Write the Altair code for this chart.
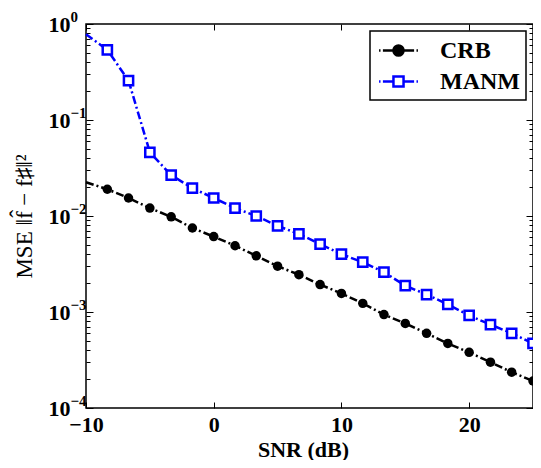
import altair as alt
import pandas as pd

# SNR (dB) of the marked points
snr = [-8.33, -6.67, -5.0, -3.33, -1.67, 0.0, 1.67, 3.33, 5.0, 6.67, 8.33,
       10.0, 11.67, 13.33, 15.0, 16.67, 18.33, 20.0, 21.67, 23.33, 25.0]
crb = [0.0190, 0.0154, 0.0121, 0.0098, 0.0075, 0.0061, 0.0049, 0.00385, 0.0030,
       0.00245, 0.00193, 0.00156, 0.00123, 0.00094, 0.00076, 0.00060, 0.00047,
       0.00038, 0.00030, 0.000236, 0.000191]
manm = [0.538, 0.257, 0.0461, 0.0266, 0.0195, 0.0154, 0.0121, 0.0100, 0.0079,
        0.0065, 0.0051, 0.0040, 0.0033, 0.0026, 0.00188, 0.00152, 0.00120,
        0.00092, 0.00074, 0.00060, 0.00047]
# line start at the left edge (no marker)
snr_start = -10.0
crb_start = 0.0225
manm_start = 0.78

series = ["CRB", "MANM"]
colors = ["#000000", "#0000ff"]
fills = ["#000000", "#ffffff"]

y_decades = [1.0, 0.1, 0.01, 0.001, 0.0001]
y_minor = [m * d for d in [0.1, 0.01, 0.001, 0.0001] for m in range(2, 10)]
exponents = ["0", "\u22121", "\u22122", "\u22123", "\u22124"]
x_ticks = [-10, 0, 10, 20]

pts = pd.DataFrame({
    "snr": snr + snr,
    "mse": crb + manm,
    "series": ["CRB"] * len(snr) + ["MANM"] * len(snr),
})
lines = pd.DataFrame({
    "snr": [snr_start] + snr + [snr_start] + snr,
    "mse": [crb_start] + crb + [manm_start] + manm,
    "series": ["CRB"] * (len(snr) + 1) + ["MANM"] * (len(snr) + 1),
})

W, H = 447, 384
SERIF = "Liberation Serif"

decade_test = "abs(log(datum.value)/LN10 - round(log(datum.value)/LN10)) < 0.001"
exp_js = "[" + ",".join("'" + e + "'" for e in exponents) + "]"

x_scale = alt.Scale(domain=[-10, 25], nice=False, zero=False)
y_scale = alt.Scale(type="log", domain=[0.0001, 1], nice=False)

x_enc = alt.X(
    "snr:Q", scale=x_scale,
    axis=alt.Axis(
        orient="bottom",
        values=x_ticks, title="SNR (dB)", domain=False, ticks=False,
        grid=True, gridColor="black", gridOpacity=1, gridWidth=1,
        gridDash=[6, H - 12, 6, 2000],
        labelExpr="datum.value < 0 ? '\u2212' + toString(-datum.value) : toString(datum.value)",
        labelFont=SERIF, labelFontSize=22, labelFontWeight="bold", labelColor="black",
        labelPadding=6, labelFlush=False,
        titleFont=SERIF, titleFontSize=22, titleFontWeight="bold", titleColor="black",
        titleX=217, titleY=41, titleBaseline="middle",
    ),
)

y_main = alt.Y(
    "mse:Q", scale=y_scale,
    axis=alt.Axis(
        orient="left",
        values=y_decades + y_minor, title="MSE  \u2016f\u0302 \u2212 f\u266f\u2016\u00b2",
        domain=False, ticks=False,
        grid=True, gridColor="black", gridOpacity=1, gridWidth=1,
        gridDash={"condition": {"test": decade_test, "value": [7, W - 14, 7, 2000]},
                  "value": [4, W - 8, 4, 2000]},
        labelExpr=decade_test + " ? '10' : ''",
        labelFont=SERIF, labelFontSize=22, labelFontWeight="bold", labelColor="black",
        labelPadding=16, labelFlush=False, labelBaseline="middle",
        titleFont=SERIF, titleFontSize=23, titleFontWeight="normal", titleColor="black",
        titleX=-50, titleY=H / 2,
    ),
)

y_exp = alt.Y(
    "mse:Q", scale=y_scale,
    axis=alt.Axis(
        orient="left",
        values=y_decades, title=None, domain=False, ticks=False, grid=False,
        labelExpr=exp_js + "[round(-log(datum.value)/LN10)]",
        labelFont=SERIF, labelFontSize=15, labelFontWeight="bold", labelColor="black",
        labelAlign="left", labelPadding=16, labelOffset=-8, labelBaseline="middle",
        labelFlush=False,
    ),
)

y_plain = alt.Y("mse:Q", scale=y_scale, axis=None)
x_plain = alt.X("snr:Q", scale=x_scale)

dash = [8, 3, 2, 3]

crb_line = alt.Chart(lines).transform_filter("datum.series == 'CRB'").mark_line(
    strokeWidth=2.5, strokeDash=dash, color=colors[0]
).encode(x=x_enc, y=y_main)

manm_line = alt.Chart(lines).transform_filter("datum.series == 'MANM'").mark_line(
    strokeWidth=2.5, strokeDash=dash, color=colors[1]
).encode(x=x_plain, y=y_plain)

crb_pts = alt.Chart(pts).transform_filter("datum.series == 'CRB'").mark_point(
    shape="circle", filled=True, size=90, color=colors[0], opacity=1
).encode(x=x_plain, y=y_plain)

manm_pts = alt.Chart(pts).transform_filter("datum.series == 'MANM'").mark_point(
    shape="square", filled=False, size=85, stroke=colors[1], fill="#ffffff",
    fillOpacity=1, strokeWidth=2.5, opacity=1
).encode(x=x_plain, y=y_plain)

exp_axis_layer = alt.Chart(pts).transform_filter("false").mark_point().encode(
    x=x_plain, y=y_exp
)

# legend symbols: dash-dot line with the marker in the middle (unit = 12 px)
dash_part = "M-1.62,0H-1.5M-1.3,0H-0.5M0.5,0H1.3M1.5,0H1.62"
circle_path = dash_part + "M0.42,0A0.42,0.42 0 1,1 -0.42,0A0.42,0.42 0 1,1 0.42,0Z"
square_path = dash_part + "M-0.42,-0.42H0.42V0.42H-0.42Z"

leg = alt.Legend(
    title=None, orient="top-right", offset=7, padding=6,
    fillColor="white", strokeColor="black",
    labelFont=SERIF, labelFontSize=24, labelFontWeight="bold", labelColor="black",
    labelOffset=28, symbolOffset=9, symbolSize=576, symbolStrokeWidth=2.5,
    rowPadding=5, symbolOpacity=1,
)

legend_layer = alt.Chart(pts).transform_filter("false").mark_point(
    strokeWidth=2.5, opacity=1
).encode(
    x=x_plain, y=y_plain,
    color=alt.Color("series:N", scale=alt.Scale(domain=series, range=colors), legend=leg),
    fill=alt.Fill("series:N", scale=alt.Scale(domain=series, range=fills), legend=leg),
    shape=alt.Shape("series:N", scale=alt.Scale(domain=series, range=[circle_path, square_path]), legend=leg),
)

chart = alt.layer(
    crb_line, manm_line, crb_pts, manm_pts, exp_axis_layer, legend_layer
).resolve_axis(y="independent").properties(
    width=W, height=H,
    autosize=alt.AutoSizeParams(type="none"),
    padding={"left": 78, "top": 16, "right": 0, "bottom": 52},
    background="white",
).configure_view(stroke="black", strokeWidth=1.5).configure_legend(
    strokeWidth=1.5
)

chart.save("out.html", embed_options={"renderer": "svg", "actions": False})
